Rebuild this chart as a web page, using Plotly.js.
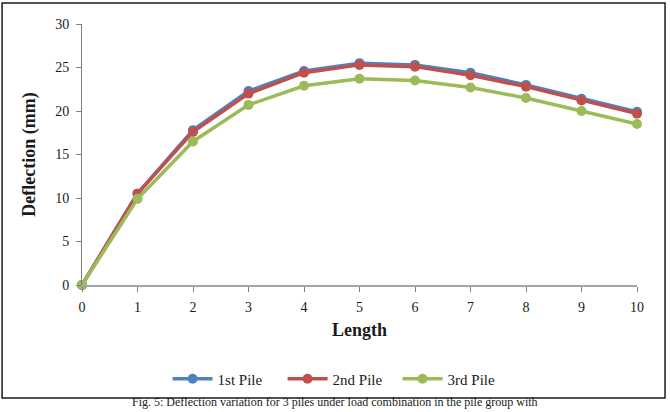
<!DOCTYPE html>
<html>
<head>
<meta charset="utf-8">
<script src="https://cdn.plot.ly/plotly-3.0.1.min.js"></script>
<style>
  html, body { margin: 0; padding: 0; background: #fff; }
  #chart { width: 670px; height: 412px; }
</style>
</head>
<body>
<div id="chart"></div>
<script>
// Pile length positions and measured lateral deflection (mm)
const lengths = [0, 1, 2, 3, 4, 5, 6, 7, 8, 9, 10];
const pile1 = [0, 10.5, 17.8, 22.3, 24.6, 25.5, 25.3, 24.4, 23.0, 21.4, 19.9];
const pile2 = [0, 10.5, 17.6, 22.0, 24.4, 25.3, 25.1, 24.1, 22.8, 21.2, 19.7];
const pile3 = [0, 9.9, 16.5, 20.7, 22.9, 23.7, 23.5, 22.7, 21.5, 20.0, 18.5];
const seriesNames = ["1st Pile", "2nd Pile", "3rd Pile"];
const seriesColors = ["#4F81BD", "#C0504D", "#9BBB59"];
const caption = "Fig. 5: Deflection variation for 3 piles under load combination in the pile group with";

const serif = "Liberation Serif, Times New Roman, serif";

const traces = [pile1, pile2, pile3].map((vals, i) => ({
  x: lengths,
  y: vals,
  name: seriesNames[i],
  type: "scatter",
  mode: "lines+markers",
  line: { color: seriesColors[i], width: 3.5 },
  marker: { color: seriesColors[i], size: 10 },
  cliponaxis: false
}));

const layout = {
  width: 670,
  height: 412,
  margin: { l: 82, r: 33, t: 24, b: 127 },
  paper_bgcolor: "#ffffff",
  plot_bgcolor: "#ffffff",
  font: { family: serif, color: "#1a1a1a", size: 14 },
  showlegend: true,
  legend: {
    orientation: "h",
    x: 0.465, xanchor: "center",
    y: -0.36, yanchor: "middle",
    font: { family: serif, size: 15, color: "#1a1a1a" },
    itemwidth: 40,
    entrywidth: 60,
    entrywidthmode: "pixels",
    traceorder: "normal"
  },
  xaxis: {
    range: [0, 10],
    dtick: 1,
    tick0: 0,
    showgrid: false,
    zeroline: false,
    showline: true,
    linecolor: "#a6a6a6",
    linewidth: 2,
    ticks: "outside",
    ticklen: 5,
    tickcolor: "#7f7f7f",
    ticklabelstandoff: 3,
    tickfont: { family: serif, size: 14, color: "#1a1a1a" },
    title: { text: "<b>Length</b>", font: { family: serif, size: 18, color: "#1a1a1a" }, standoff: 10 }
  },
  yaxis: {
    range: [0, 30],
    dtick: 5,
    showgrid: false,
    zeroline: false,
    showline: true,
    linecolor: "#7f7f7f",
    linewidth: 1,
    ticks: "outside",
    ticklen: 5,
    tickcolor: "#7f7f7f",
    ticklabelstandoff: 4,
    tickfont: { family: serif, size: 14, color: "#1a1a1a" },
    title: { text: "<b>Deflection (mm)</b>", font: { family: serif, size: 18, color: "#1a1a1a" }, standoff: 14 }
  },
  shapes: [{
    type: "rect",
    xref: "paper", yref: "paper",
    x0: -0.144, x1: 1.0505,
    y0: -0.433, y1: 1.0805,
    line: { color: "#1a1a1a", width: 1.5 },
    fillcolor: "rgba(0,0,0,0)",
    layer: "below"
  }],
  annotations: [{
    text: caption,
    xref: "paper", yref: "paper",
    x: 0.456, xanchor: "center",
    y: -0.482, yanchor: "bottom",
    showarrow: false,
    font: { family: serif, size: 12, color: "#1a1a1a" }
  }]
};

Plotly.newPlot("chart", traces, layout, { displayModeBar: false, staticPlot: true });
</script>
</body>
</html>
